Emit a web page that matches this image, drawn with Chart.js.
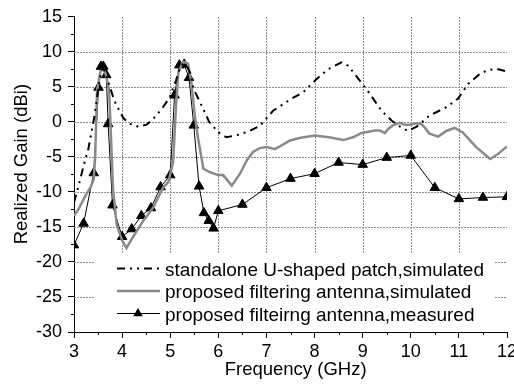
<!DOCTYPE html>
<html>
<head>
<meta charset="utf-8">
<script src="https://cdn.jsdelivr.net/npm/chart.js@4.4.0/dist/chart.umd.min.js"></script>
<style>
  html, body { margin: 0; padding: 0; overflow: hidden; background: #fff; }
  #wrap { width: 514px; height: 384px; overflow: hidden; }
</style>
</head>
<body>
<div id="wrap"><canvas id="gainChart" width="524" height="384"></canvas></div>
<script>
// standalone U-shaped patch, simulated
var standaloneFreq = [3.0, 3.1, 3.21, 3.3, 3.42, 3.49, 3.55, 3.6, 3.66, 3.75, 3.84, 3.95, 4.03, 4.17, 4.34, 4.51, 4.7, 4.85, 4.99, 5.12, 5.2, 5.27, 5.35, 5.42, 5.48, 5.62, 5.81, 6.0, 6.17, 6.38, 6.62, 6.86, 7.14, 7.52, 7.76, 8.04, 8.28, 8.56, 8.7, 8.94, 9.15, 9.39, 9.6, 9.8, 9.94, 10.12, 10.39, 10.74, 10.98, 11.19, 11.43, 11.57, 11.77, 12.0];
var standaloneGain = [-11.5, -9.0, -6.0, -3.8, 0.6, 4.0, 6.7, 7.8, 6.9, 4.9, 3.0, 1.5, 0.5, -0.3, -0.7, -0.4, 0.8, 2.1, 3.5, 5.9, 7.8, 8.3, 7.9, 6.9, 4.8, 2.8, 0.0, -1.5, -2.2, -1.9, -1.4, -0.6, 1.6, 3.3, 4.2, 6.1, 7.5, 8.5, 8.0, 5.9, 4.0, 1.6, 0.2, -0.8, -1.3, -0.7, 0.9, 2.1, 3.3, 5.4, 6.8, 7.3, 7.6, 7.2];

// proposed filtering antenna, simulated
var filterSimFreq = [3.0, 3.1, 3.24, 3.34, 3.41, 3.44, 3.48, 3.55, 3.61, 3.66, 3.73, 3.77, 3.81, 3.89, 4.0, 4.09, 4.17, 4.23, 4.44, 4.65, 4.85, 4.96, 5.06, 5.12, 5.17, 5.27, 5.37, 5.44, 5.51, 5.58, 5.69, 5.83, 6.0, 6.1, 6.28, 6.45, 6.59, 6.72, 6.86, 7.0, 7.07, 7.17, 7.28, 7.49, 7.69, 8.0, 8.3, 8.6, 8.8, 8.97, 9.25, 9.36, 9.46, 9.53, 9.63, 9.77, 9.87, 9.98, 10.12, 10.22, 10.3, 10.39, 10.57, 10.74, 10.91, 11.08, 11.36, 11.65, 11.81, 12.0];
var filterSimGain = [-13.4, -12.4, -10.5, -9.4, -8.2, -5.0, 4.5, 7.2, 7.6, 6.8, 4.5, -2.4, -9.5, -14.8, -16.9, -18.0, -17.1, -16.4, -14.1, -12.2, -9.4, -8.6, -5.8, 2.3, 7.1, 8.6, 8.3, 5.6, 0.9, -2.4, -6.7, -7.2, -7.6, -7.6, -9.1, -7.4, -5.5, -4.3, -3.75, -3.6, -3.7, -3.9, -3.5, -2.65, -2.3, -1.95, -2.2, -2.6, -2.2, -1.6, -1.25, -1.25, -1.6, -1.0, -0.5, -0.15, -0.4, -0.4, -0.2, -0.3, -0.9, -1.7, -2.1, -1.3, -0.85, -1.5, -3.6, -5.3, -4.6, -3.5];

// proposed filtering antenna, measured
var measuredFreq = [3.0, 3.2, 3.41, 3.51, 3.56, 3.61, 3.67, 3.71, 3.8, 4.0, 4.2, 4.4, 4.6, 4.8, 5.0, 5.09, 5.19, 5.29, 5.39, 5.49, 5.6, 5.7, 5.8, 5.9, 6.0, 6.5, 7.0, 7.5, 8.0, 8.5, 9.0, 9.5, 10.0, 10.5, 11.0, 11.5, 12.0];
var measuredGain = [-17.6, -14.5, -7.3, 4.9, 7.9, 7.9, 6.7, -0.3, -11.9, -16.4, -15.3, -13.4, -12.3, -9.3, -7.6, 3.8, 8.1, 8.2, 6.3, -0.5, -9.2, -13.0, -14.1, -15.2, -12.7, -11.8, -9.4, -8.1, -7.4, -5.8, -6.1, -5.1, -4.8, -9.4, -11.0, -10.8, -10.7];

var seriesLabels = ['standalone U-shaped patch,simulated', 'proposed filtering antenna,simulated', 'proposed filteirng antenna,measured'];

function pairs(xs, ys) {
  return xs.map(function(x, i) { return {x: x, y: ys[i]}; });
}

var fontFamily = '"Liberation Sans", Arial, Helvetica, sans-serif';
Chart.defaults.font.family = fontFamily;
Chart.defaults.color = '#000';

var gridGray = '#8c8c8c';

// where the legend sits inside the plot
function legendRect(area) {
  return {left: area.left + 21, top: area.bottom - 78, width: 400, height: 76};
}

// dotted grid under the curves, kept off the legend box
var dottedGrid = {
  id: 'dottedGrid',
  beforeDatasetsDraw: function(chart) {
    var ctx = chart.ctx;
    var xs = chart.scales.x, ys = chart.scales.y;
    var area = chart.chartArea;
    var lg = legendRect(area);
    ctx.save();
    ctx.strokeStyle = gridGray;
    ctx.lineWidth = 1;
    ctx.setLineDash([2, 1]);
    xs.ticks.forEach(function(t, i) {
      if (i === 0 || i === xs.ticks.length - 1) return;
      var px = Math.round(xs.getPixelForValue(t.value)) + 0.5;
      var end = (px > lg.left && px < lg.left + lg.width) ? lg.top : area.bottom;
      ctx.beginPath();
      ctx.moveTo(px, Math.round(area.top));
      ctx.lineTo(px, end);
      ctx.stroke();
    });
    ys.ticks.forEach(function(t, i) {
      if (i === 0 || i === ys.ticks.length - 1) return;
      var py = Math.round(ys.getPixelForValue(t.value)) + 0.5;
      ctx.beginPath();
      if (py > lg.top) {
        ctx.moveTo(area.left, py);
        ctx.lineTo(lg.left, py);
        ctx.moveTo(lg.left + lg.width, py);
        ctx.lineTo(area.right, py);
      } else {
        ctx.moveTo(area.left, py);
        ctx.lineTo(area.right, py);
      }
      ctx.stroke();
    });
    ctx.restore();
  }
};

// minor ticks between the labelled ones
var minorTicks = {
  id: 'minorTicks',
  afterDraw: function(chart) {
    var ctx = chart.ctx;
    var xs = chart.scales.x, ys = chart.scales.y;
    var area = chart.chartArea;
    ctx.save();
    ctx.strokeStyle = '#000';
    ctx.lineWidth = 1;
    ctx.beginPath();
    for (var v = 3.5; v < 12; v += 1) {
      var mx = Math.round(xs.getPixelForValue(v)) + 0.5;
      ctx.moveTo(mx, area.bottom);
      ctx.lineTo(mx, area.bottom + 3);
    }
    for (var g = -27.5; g < 15; g += 5) {
      var my = Math.round(ys.getPixelForValue(g)) + 0.5;
      ctx.moveTo(area.left, my);
      ctx.lineTo(area.left - 3, my);
    }
    ctx.stroke();
    ctx.restore();
  }
};

// legend drawn inside the plot, on a white box
var legendBox = {
  id: 'legendBox',
  afterDatasetsDraw: function(chart) {
    var ctx = chart.ctx;
    var lg = legendRect(chart.chartArea);
    ctx.save();
    ctx.fillStyle = '#fff';
    ctx.fillRect(lg.left, lg.top, lg.width, lg.height);
    chart.data.datasets.forEach(function(ds, i) {
      var y = lg.top + 14.5 + i * 22.5;
      ctx.strokeStyle = ds.borderColor;
      ctx.lineWidth = ds.borderWidth;
      ctx.lineCap = 'butt';
      ctx.setLineDash(ds.borderDash || []);
      ctx.beginPath();
      ctx.moveTo(lg.left + 22, y);
      ctx.lineTo(lg.left + 65, y);
      ctx.stroke();
      ctx.setLineDash([]);
      if (ds.pointRadius > 0) {
        var r = ds.pointRadius, cx = lg.left + 43;
        ctx.fillStyle = ds.pointBackgroundColor;
        ctx.beginPath();
        ctx.moveTo(cx, y - r);
        ctx.lineTo(cx + r * 0.866, y + r * 0.5);
        ctx.lineTo(cx - r * 0.866, y + r * 0.5);
        ctx.closePath();
        ctx.fill();
      }
      ctx.fillStyle = '#000';
      ctx.font = '19px ' + fontFamily;
      ctx.textBaseline = 'alphabetic';
      ctx.textAlign = 'left';
      ctx.fillText(ds.label, lg.left + 70, y + 7);
    });
    ctx.restore();
  }
};

var chart = new Chart(document.getElementById('gainChart').getContext('2d'), {
  type: 'line',
  data: {
    datasets: [{
      label: seriesLabels[0],
      data: pairs(standaloneFreq, standaloneGain),
      borderColor: '#000',
      borderWidth: 2,
      borderDash: [8, 5, 2, 5, 2, 5],
      borderCapStyle: 'butt',
      pointRadius: 0,
      fill: false,
      tension: 0
    }, {
      label: seriesLabels[1],
      data: pairs(filterSimFreq, filterSimGain),
      borderColor: '#8a8a8a',
      borderWidth: 2.5,
      pointRadius: 0,
      fill: false,
      tension: 0
    }, {
      label: seriesLabels[2],
      data: pairs(measuredFreq, measuredGain),
      borderColor: '#000',
      borderWidth: 1,
      pointStyle: 'triangle',
      pointRadius: 5.5,
      pointBackgroundColor: '#000',
      pointBorderColor: '#000',
      pointBorderWidth: 1,
      fill: false,
      tension: 0
    }]
  },
  plugins: [dottedGrid, legendBox, minorTicks],
  options: {
    responsive: false,
    animation: false,
    layout: {
      padding: {left: 0, top: 16, right: 17, bottom: 0}
    },
    plugins: {
      legend: {display: false},
      tooltip: {enabled: false}
    },
    scales: {
      x: {
        type: 'linear',
        min: 3,
        max: 12,
        afterFit: function(scale) { scale.height = 52; },
        ticks: {
          stepSize: 1,
          autoSkip: false,
          maxRotation: 0,
          padding: 3,
          color: '#000',
          font: {size: 18}
        },
        grid: {
          drawOnChartArea: false,
          tickColor: '#000',
          tickLength: 6,
          tickWidth: 1
        },
        border: {display: true, color: '#000', width: 1},
        title: {
          display: true,
          text: '  Frequency (GHz)',
          color: '#000',
          font: {size: 18.5},
          padding: {top: 0, bottom: 3}
        }
      },
      y: {
        min: -30,
        max: 15,
        afterFit: function(scale) { scale.width = 74; },
        ticks: {
          stepSize: 5,
          autoSkip: false,
          padding: 6,
          color: '#000',
          font: {size: 18}
        },
        grid: {
          drawOnChartArea: false,
          tickColor: '#000',
          tickLength: 6,
          tickWidth: 1
        },
        border: {display: true, color: '#000', width: 1},
        title: {
          display: true,
          text: '    Realized Gain (dBi)',
          color: '#000',
          font: {size: 18.5},
          padding: {top: 11, bottom: 0}
        }
      }
    }
  }
});
</script>
</body>
</html>
